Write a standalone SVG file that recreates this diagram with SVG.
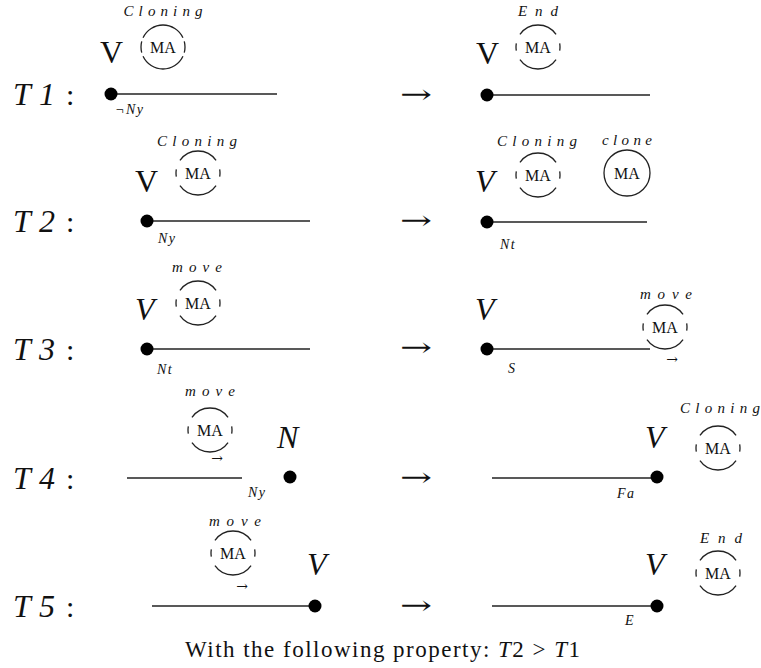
<svg xmlns="http://www.w3.org/2000/svg" width="761" height="668" viewBox="0 0 761 668">
<defs>
  <circle id="ring" cx="0" cy="0" r="22" pathLength="360" fill="none" stroke="#222" stroke-width="1.3" stroke-dasharray="20 25 110 25" stroke-dashoffset="10"/>
  <circle id="ringT" cx="0" cy="0" r="22" pathLength="360" fill="none" stroke="#222" stroke-width="1.3" stroke-dasharray="30 10 130 10" stroke-dashoffset="15"/>
  <circle id="ringS" cx="0" cy="0" r="23" fill="none" stroke="#222" stroke-width="1.3"/>
</defs>

<g id="labels" fill="#111">
  <text font-family="Liberation Serif" font-size="32" font-style="italic" x="13" y="105" textLength="42">T1</text><text font-family="Liberation Serif" font-size="30" x="66" y="105">:</text>
  <text font-family="Liberation Serif" font-size="32" font-style="italic" x="13" y="232" textLength="42">T2</text><text font-family="Liberation Serif" font-size="30" x="66" y="232">:</text>
  <text font-family="Liberation Serif" font-size="32" font-style="italic" x="13" y="360" textLength="42">T3</text><text font-family="Liberation Serif" font-size="30" x="66" y="360">:</text>
  <text font-family="Liberation Serif" font-size="32" font-style="italic" x="13" y="489" textLength="42">T4</text><text font-family="Liberation Serif" font-size="30" x="66" y="489">:</text>
  <text font-family="Liberation Serif" font-size="32" font-style="italic" x="13" y="617" textLength="42">T5</text><text font-family="Liberation Serif" font-size="30" x="66" y="617">:</text>
</g>

<g id="connectors" stroke="#222" stroke-width="1.5">
  <line x1="111" y1="94" x2="277" y2="94"/>
  <line x1="487" y1="95" x2="650" y2="95"/>
  <line x1="147" y1="221" x2="310" y2="221"/>
  <line x1="487" y1="222" x2="647" y2="222"/>
  <line x1="147" y1="349" x2="310" y2="349"/>
  <line x1="487" y1="349" x2="650" y2="349"/>
  <line x1="127" y1="478" x2="242" y2="478"/>
  <line x1="492" y1="478" x2="657" y2="478"/>
  <line x1="152" y1="606" x2="315" y2="606"/>
  <line x1="492" y1="606" x2="657" y2="606"/>
</g>

<g id="arrows" fill="#111">
  <text font-family="DejaVu Serif" font-size="26" x="400" y="103" textLength="32" lengthAdjust="spacingAndGlyphs">→</text>
  <text font-family="DejaVu Serif" font-size="26" x="400" y="229" textLength="32" lengthAdjust="spacingAndGlyphs">→</text>
  <text font-family="DejaVu Serif" font-size="26" x="400" y="356" textLength="32" lengthAdjust="spacingAndGlyphs">→</text>
  <text font-family="DejaVu Serif" font-size="26" x="400" y="486" textLength="32" lengthAdjust="spacingAndGlyphs">→</text>
  <text font-family="DejaVu Serif" font-size="26" x="400" y="614" textLength="32" lengthAdjust="spacingAndGlyphs">→</text>
</g>

<g id="t1-left" fill="#111">
  <text font-family="Liberation Serif" font-size="32" x="100" y="63">V</text>
  <use href="#ringT" x="163" y="47"/>
  <text font-family="Liberation Serif" font-size="16" text-anchor="middle" x="163" y="53">MA</text>
  <text font-family="Liberation Serif" font-size="15" font-style="italic" text-anchor="middle" x="163" y="16" textLength="79">Cloning</text>
  <circle cx="111" cy="94" r="6.5" fill="#000"/>
  <text font-family="Liberation Serif" font-size="14" font-style="italic" letter-spacing="1.5" x="115" y="114">¬Ny</text>
</g>

<g id="t1-right" fill="#111">
  <text font-family="Liberation Serif" font-size="32" x="476" y="64">V</text>
  <use href="#ring" x="538" y="47"/>
  <text font-family="Liberation Serif" font-size="16" text-anchor="middle" x="538" y="53">MA</text>
  <text font-family="Liberation Serif" font-size="15" font-style="italic" text-anchor="middle" x="538" y="16" textLength="40">End</text>
  <circle cx="487" cy="95" r="6.5" fill="#000"/>
</g>

<g id="t2-left" fill="#111">
  <text font-family="Liberation Serif" font-size="32" x="135" y="192">V</text>
  <use href="#ring" x="198" y="173"/>
  <text font-family="Liberation Serif" font-size="16" text-anchor="middle" x="198" y="179">MA</text>
  <text font-family="Liberation Serif" font-size="15" font-style="italic" text-anchor="middle" x="197" y="146" textLength="80">Cloning</text>
  <circle cx="147" cy="221" r="6.5" fill="#000"/>
  <text font-family="Liberation Serif" font-size="14" font-style="italic" letter-spacing="1.5" x="158" y="243">Ny</text>
</g>

<g id="t2-right" fill="#111">
  <text font-family="Liberation Serif" font-size="32" font-style="italic" x="475" y="192">V</text>
  <use href="#ring" x="538" y="175"/>
  <text font-family="Liberation Serif" font-size="16" text-anchor="middle" x="538" y="181">MA</text>
  <text font-family="Liberation Serif" font-size="15" font-style="italic" text-anchor="middle" x="537" y="146" textLength="80">Cloning</text>
  <use href="#ringS" x="627" y="173"/>
  <text font-family="Liberation Serif" font-size="16" text-anchor="middle" x="627" y="179">MA</text>
  <text font-family="Liberation Serif" font-size="15" font-style="italic" text-anchor="middle" x="627" y="145" textLength="50">clone</text>
  <circle cx="487" cy="222" r="6.5" fill="#000"/>
  <text font-family="Liberation Serif" font-size="14" font-style="italic" letter-spacing="1.5" x="500" y="249">Nt</text>
</g>

<g id="t3-left" fill="#111">
  <text font-family="Liberation Serif" font-size="32" font-style="italic" x="135" y="320">V</text>
  <use href="#ring" x="198" y="303"/>
  <text font-family="Liberation Serif" font-size="16" text-anchor="middle" x="198" y="309">MA</text>
  <text font-family="Liberation Serif" font-size="15" font-style="italic" text-anchor="middle" x="197" y="272" textLength="50">move</text>
  <circle cx="147" cy="349" r="6.5" fill="#000"/>
  <text font-family="Liberation Serif" font-size="14" font-style="italic" letter-spacing="1.5" x="157" y="374">Nt</text>
</g>

<g id="t3-right" fill="#111">
  <text font-family="Liberation Serif" font-size="32" font-style="italic" x="475" y="320">V</text>
  <use href="#ring" x="665" y="327"/>
  <text font-family="Liberation Serif" font-size="16" text-anchor="middle" x="665" y="333">MA</text>
  <text font-family="Liberation Serif" font-size="15" font-style="italic" text-anchor="middle" x="666" y="299" textLength="52">move</text>
  <text font-family="DejaVu Serif" font-size="14" text-anchor="middle" x="672" y="364">→</text>
  <circle cx="487" cy="349" r="6.5" fill="#000"/>
  <text font-family="Liberation Serif" font-size="14" font-style="italic" letter-spacing="1.5" x="508" y="373">S</text>
</g>

<g id="t4-left" fill="#111">
  <use href="#ring" x="210" y="430"/>
  <text font-family="Liberation Serif" font-size="16" text-anchor="middle" x="210" y="436">MA</text>
  <text font-family="Liberation Serif" font-size="15" font-style="italic" text-anchor="middle" x="210" y="396" textLength="50">move</text>
  <text font-family="DejaVu Serif" font-size="14" text-anchor="middle" x="217" y="463">→</text>
  <text font-family="Liberation Serif" font-size="32" font-style="italic" x="277" y="448">N</text>
  <circle cx="290" cy="477" r="6.5" fill="#000"/>
  <text font-family="Liberation Serif" font-size="14" font-style="italic" letter-spacing="1.5" x="248" y="497">Ny</text>
</g>

<g id="t4-right" fill="#111">
  <text font-family="Liberation Serif" font-size="32" font-style="italic" x="645" y="448">V</text>
  <use href="#ring" x="718" y="448"/>
  <text font-family="Liberation Serif" font-size="16" text-anchor="middle" x="718" y="454">MA</text>
  <text font-family="Liberation Serif" font-size="15" font-style="italic" text-anchor="middle" x="720" y="413" textLength="80">Cloning</text>
  <circle cx="657" cy="477" r="6.5" fill="#000"/>
  <text font-family="Liberation Serif" font-size="14" font-style="italic" letter-spacing="1.5" x="617" y="498">Fa</text>
</g>

<g id="t5-left" fill="#111">
  <use href="#ring" x="233" y="553"/>
  <text font-family="Liberation Serif" font-size="16" text-anchor="middle" x="233" y="559">MA</text>
  <text font-family="Liberation Serif" font-size="15" font-style="italic" text-anchor="middle" x="235" y="526" textLength="52">move</text>
  <text font-family="DejaVu Serif" font-size="14" text-anchor="middle" x="242" y="591">→</text>
  <text font-family="Liberation Serif" font-size="32" font-style="italic" x="307" y="575">V</text>
  <circle cx="315" cy="606" r="6.5" fill="#000"/>
</g>

<g id="t5-right" fill="#111">
  <text font-family="Liberation Serif" font-size="32" font-style="italic" x="645" y="575">V</text>
  <use href="#ring" x="718" y="573"/>
  <text font-family="Liberation Serif" font-size="16" text-anchor="middle" x="718" y="579">MA</text>
  <text font-family="Liberation Serif" font-size="15" font-style="italic" text-anchor="middle" x="721" y="543" textLength="42">End</text>
  <circle cx="657" cy="606" r="6.5" fill="#000"/>
  <text font-family="Liberation Serif" font-size="14" font-style="italic" letter-spacing="1.5" x="625" y="625">E</text>
</g>

<g id="caption" fill="#111">
  <text font-family="Liberation Serif" font-size="23" x="185" y="657" textLength="395">With the following property: <tspan font-style="italic">T</tspan>2 &gt; <tspan font-style="italic">T</tspan>1</text>
</g>
</svg>
